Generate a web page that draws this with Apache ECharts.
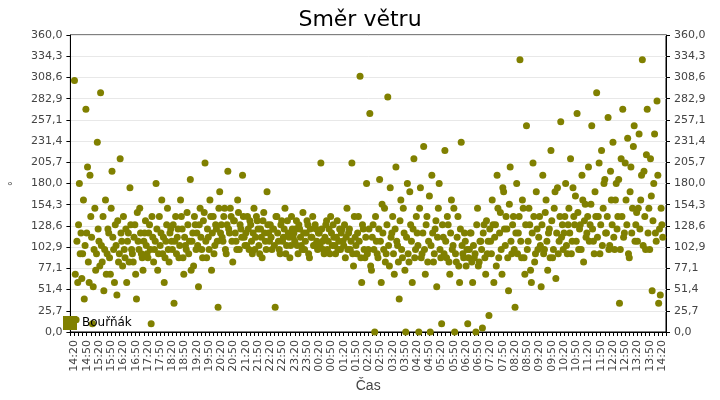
<!DOCTYPE html>
<html><head><meta charset="utf-8">
<script src="https://cdn.jsdelivr.net/npm/echarts@6/dist/echarts.min.js"></script>
<style>html,body{margin:0;padding:0;background:#fff}#c{width:720px;height:400px}</style>
</head><body><div id="c"></div>
<script>
var seriesName = 'Bouřňák';
var startMinute = 10;      // 14:20 (axis starts at 14:10)
var sampleStep = 4;        // minutes between readings
var directions = [
305,15,60,180,120,95,40,270,200,60,140,10,100,75,230,
110,290,85,50,160,95,120,70,195,100,130,45,85,210,110,
140,90,60,120,175,100,85,130,40,110,150,95,75,120,105,
90,130,10,115,100,180,75,140,120,95,60,110,150,85,125,
100,35,140,115,90,160,125,70,105,145,95,185,110,80,130,
120,55,150,100,135,205,90,115,160,75,140,105,125,30,170,
130,110,150,95,195,120,140,85,135,110,160,100,125,190,115,
120,140,100,130,95,150,115,135,105,125,90,145,110,170,120,
130,100,125,30,140,110,95,135,115,150,105,120,90,140,115,
110,135,95,125,105,145,100,120,130,90,115,140,105,125,100,
120,205,110,95,130,100,125,140,105,115,95,135,110,100,125,
105,90,150,120,100,205,80,115,95,140,310,60,125,90,180,
100,265,75,130,0,110,90,185,60,120,150,95,285,80,115,
140,70,200,105,40,160,90,120,0,180,85,130,60,210,100,
120,0,175,95,225,70,140,110,0,190,85,125,55,150,100,
10,115,220,90,130,70,160,105,0,85,140,60,230,95,120,
80,10,100,120,60,90,0,150,85,110,5,130,70,95,20,
110,160,60,130,190,90,145,70,170,105,125,50,200,95,140,
30,180,120,330,90,150,70,250,110,130,60,205,85,170,100,
140,55,190,100,160,75,125,220,90,150,65,175,110,255,130,
120,180,95,150,210,110,140,165,265,100,130,190,85,155,120,
200,130,250,110,170,290,140,95,220,150,185,120,260,105,160,
230,100,180,140,35,210,270,120,160,235,90,200,150,250,130,
110,240,160,330,195,100,270,150,210,50,180,120,280,35,45,
130];
var directionsB = [
70,110,130,95,65,160,105,120,85,190,115,55,150,95,125,
80,105,140,100,70,125,90,150,115,60,105,135,95,120,80,
100,125,110,85,130,95,115,70,145,100,120,90,110,135,95,
120,100,140,85,110,125,95,105,160,115,90,130,100,120,110,
130,110,95,125,105,140,90,115,100,130,110,75,120,140,100,
105,130,115,90,145,110,125,100,140,120,95,130,110,150,120,
115,140,100,130,125,150,110,135,120,100,145,130,115,140,105,
105,125,135,110,120,100,140,125,95,115,135,120,100,130,110,
115,125,105,140,120,100,130,110,125,95,135,115,105,125,120,
125,105,130,115,100,120,110,135,95,125,115,105,130,110,120,
105,125,100,115,135,110,95,120,130,105,115,100,125,120,110,
130,115,100,125,110,95,140,105,120,110,90,130,100,115,95,
125,80,115,100,140,95,125,110,155,100,85,130,105,175,120,
95,125,110,85,135,100,150,75,115,95,170,110,125,90,140,
105,150,90,120,100,130,85,165,105,120,95,135,115,180,90,
130,95,110,140,85,120,100,150,95,115,80,125,105,90,110,
100,90,120,85,105,95,130,80,110,100,120,90,135,110,125,
95,130,115,80,150,120,100,175,125,140,90,155,110,130,100,
120,95,140,110,160,90,130,100,150,75,120,140,95,125,115,
105,130,95,145,110,120,90,135,100,170,120,95,140,115,100,
140,105,130,120,95,175,130,110,145,125,100,160,135,115,140,
110,155,125,95,140,115,205,130,105,180,120,140,100,195,130,
115,160,125,185,100,140,115,205,130,95,170,120,225,110,145,
150,125,190,105,140,215,120,100,165,135,240,110,190,125,150,
115];
function toPoints(arr, offset){return arr.map(function(v,i){return [startMinute + offset + i*sampleStep, v];});}
var data = toPoints(directions,0).concat(toPoints(directionsB,2));
function timeLabel(v){
  if ((v-10)%30!==0) return '';
  var m = (14*60+10+v)%1440;
  var h = Math.floor(m/60), mm = m%60;
  return (h<10?'0':'')+h+':'+(mm<10?'0':'')+mm;
}
function yl(v){return v.toFixed(1).replace('.',',');}
var yAx = function(pos){return {
  type:'value', position:pos, min:0, max:360, interval:360/14,
  axisLine:{show:true,lineStyle:{color:'#000'}}, axisTick:{show:true,length:4,lineStyle:{color:'#000'}},
  axisLabel:{formatter:yl,color:'#444',fontSize:11,fontFamily:'DejaVu Sans'},
  splitLine:{show:pos==='left',lineStyle:{color:'#e8e8e8'}},
  name: pos==='left'?'°':'', nameLocation:'middle', nameGap:44, nameTextStyle:{color:'#444',fontSize:12}
};};
var chart = echarts.init(document.getElementById('c'));
chart.setOption({
  animation:false,
  title:{text:'Směr větru',left:'center',top:4,textStyle:{fontSize:22,fontWeight:'normal',color:'#000',fontFamily:'DejaVu Sans'}},
  grid:{left:55,right:54,top:35,bottom:68,show:true,borderColor:'#000',borderWidth:1},
  legend:{left:58,top:311,icon:'rect',itemWidth:14,itemHeight:14,itemGap:6,textStyle:{fontSize:12,color:'#000',fontFamily:'DejaVu Sans'},data:[seriesName]},
  xAxis:{type:'value',min:0,max:1460,interval:10,
    axisLine:{lineStyle:{color:'#000'}},axisTick:{length:4,lineStyle:{color:'#000'}},
    splitLine:{show:false},
    axisLabel:{formatter:timeLabel,rotate:90,color:'#444',fontSize:11,fontFamily:'DejaVu Sans',showMinLabel:true,showMaxLabel:true},
    name:'Čas',nameLocation:'middle',nameGap:46,nameTextStyle:{fontSize:14,color:'#444'}},
  yAxis:[yAx('left'),yAx('right')],
  series:[{name:seriesName,type:'scatter',data:data,symbolSize:7,itemStyle:{color:'#808000',opacity:1}}]
});
</script></body></html>
